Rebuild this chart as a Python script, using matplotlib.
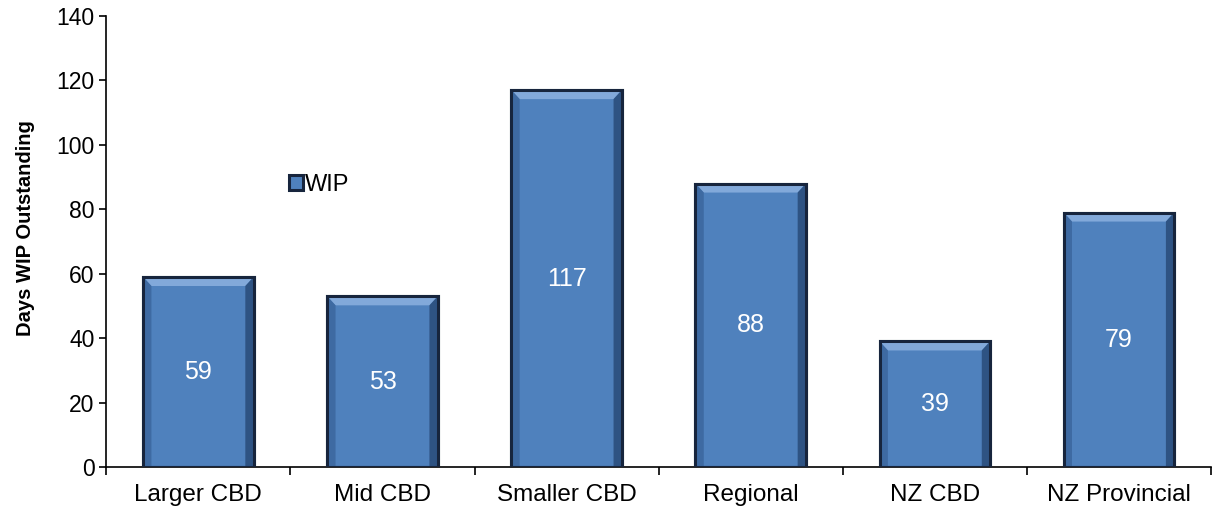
import numpy as np
import matplotlib.pyplot as plt
from matplotlib.patches import Polygon

regions = ['Larger CBD', 'Mid CBD', 'Smaller CBD', 'Regional', 'NZ CBD', 'NZ Provincial']
wip_days = [59, 53, 117, 88, 39, 79]

plt.rcParams['font.family'] = ['Liberation Sans', 'DejaVu Sans']

fig = plt.figure(figsize=(12.22, 5.15), dpi=100)
ax = fig.add_axes([0.087, 0.093, 0.904, 0.876])

x = np.arange(len(regions))
width = 0.6
bars = ax.bar(x, wip_days, width, color='#4F81BD', edgecolor='#17253D',
              linewidth=2.2, label='WIP', zorder=2)

# bevel look: lighter top strip, darker side strips
for rect in bars:
    x0, y0 = rect.get_x(), rect.get_y()
    w, h = rect.get_width(), rect.get_height()
    dx = 0.045
    dy = 2.8
    top = Polygon([[x0, y0 + h], [x0 + w, y0 + h], [x0 + w - dx, y0 + h - dy],
                   [x0 + dx, y0 + h - dy]], closed=True, facecolor='#82A9DA',
                  edgecolor='none', zorder=3)
    left = Polygon([[x0, y0], [x0, y0 + h], [x0 + dx, y0 + h - dy], [x0 + dx, y0]],
                   closed=True, facecolor='#3E6AA2', edgecolor='none', zorder=3)
    right = Polygon([[x0 + w, y0], [x0 + w, y0 + h], [x0 + w - dx, y0 + h - dy],
                     [x0 + w - dx, y0]], closed=True, facecolor='#2E5383',
                    edgecolor='none', zorder=3)
    for p in (top, left, right):
        ax.add_patch(p)
    ax.add_patch(plt.Rectangle((x0, y0), w, h, fill=False, edgecolor='#17253D',
                               linewidth=2.2, zorder=4))

for xi, v in zip(x, wip_days):
    ax.text(xi, v / 2, str(v), ha='center', va='center', color='white',
            fontsize=18, zorder=5)

ax.set_xlim(-0.5, len(regions) - 0.5)
ax.set_ylim(0, 140)
ax.set_yticks(np.arange(0, 141, 20))
ax.set_xticks(x)
ax.set_xticklabels(regions, fontsize=17.5)
ax.set_xticks(np.arange(-0.5, len(regions), 1), minor=True)
ax.tick_params(axis='x', which='major', length=0, pad=12)
ax.tick_params(axis='x', which='minor', length=6, width=1.2, direction='out')
ax.tick_params(axis='y', labelsize=16.5, length=5, width=1.2, direction='out')
ax.set_ylabel('Days WIP Outstanding', fontsize=14.5, fontweight='bold')
ax.yaxis.set_label_coords(-0.065, 0.53)

ax.spines['top'].set_visible(False)
ax.spines['right'].set_visible(False)
ax.spines['left'].set_linewidth(1.2)
ax.spines['bottom'].set_linewidth(1.2)

ax.legend(loc='center left', bbox_to_anchor=(0.146, 0.625), frameon=False,
          fontsize=17, handlelength=0.6, handleheight=0.6, handletextpad=0.1)

fig.savefig('out.png', dpi=100)
